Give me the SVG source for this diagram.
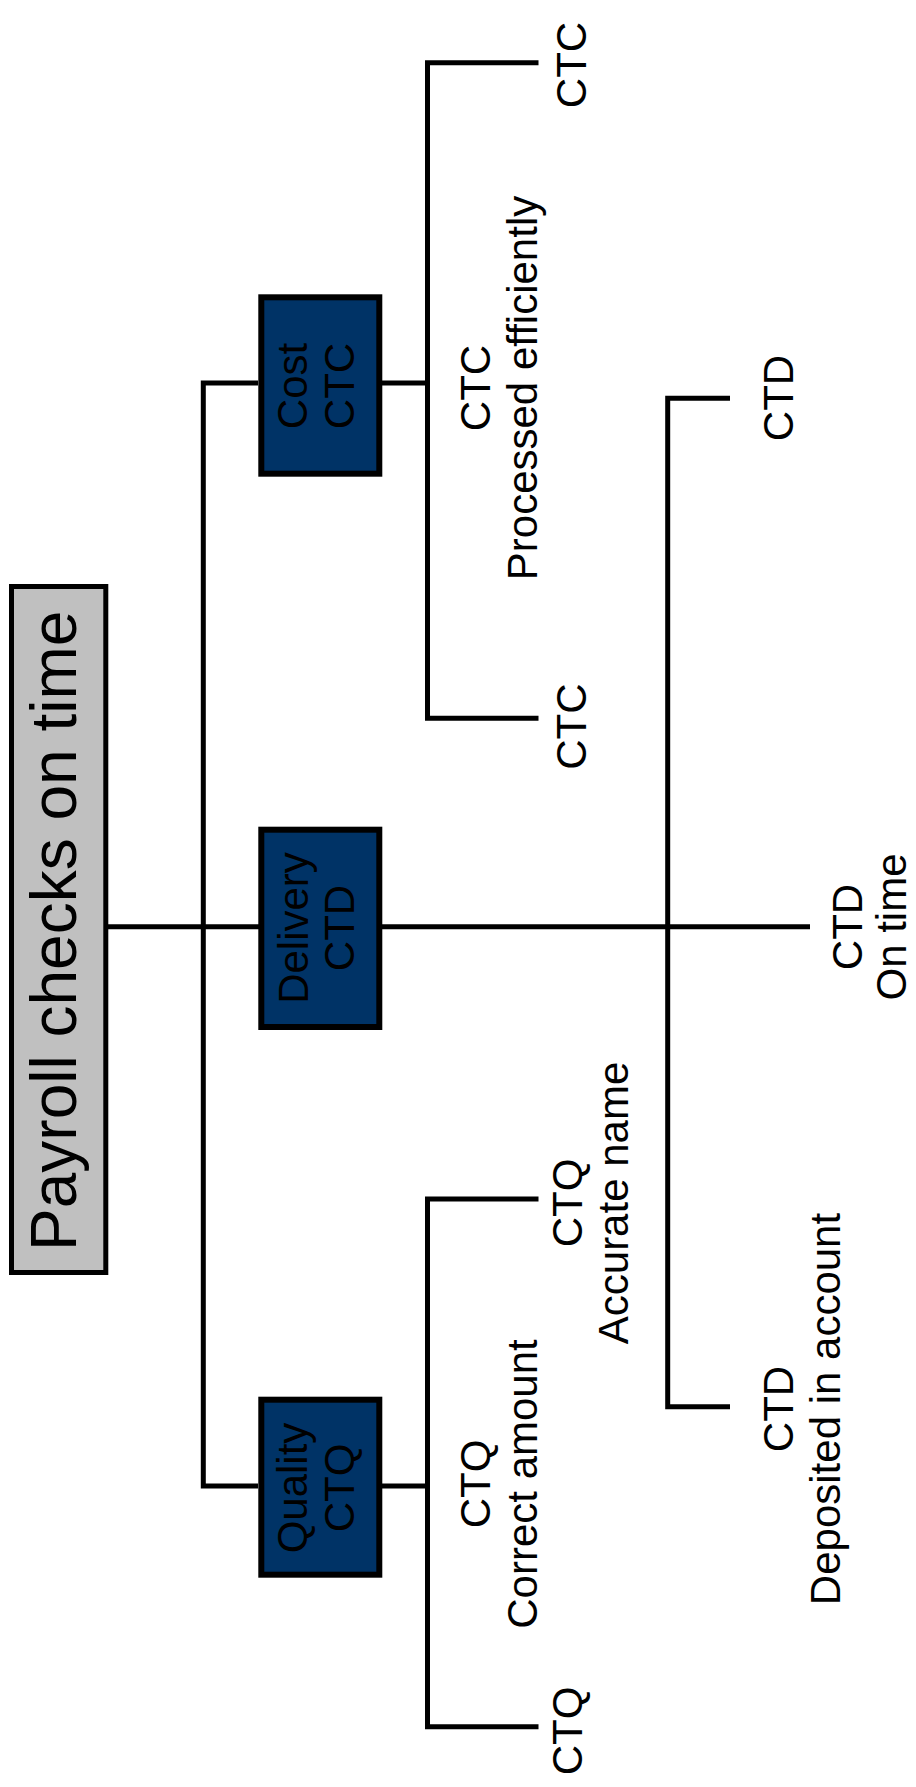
<svg xmlns="http://www.w3.org/2000/svg" width="916" height="1787" viewBox="0 0 916 1787">
  <style>
    .wire { fill: none; stroke: #000; stroke-width: 5; stroke-linejoin: miter; stroke-linecap: butt; }
    .box { fill: #003366; stroke: #000; stroke-width: 6; }
    .root { fill: #C0C0C0; stroke: #000; stroke-width: 5; }
    text { font-family: "Liberation Sans", Arial, sans-serif; fill: #000; text-anchor: middle; }
    .t42 { font-size: 42px; }
    .t64 { font-size: 64px; }
  </style>

  <!-- connectors: spine, branches and brackets -->
  <g id="connectors">
    <line class="wire" x1="108" y1="926.7" x2="810" y2="926.7"/>
    <polyline class="wire" points="258,383 203.3,383 203.3,1486 258,1486"/>
    <line class="wire" x1="382" y1="383" x2="427.5" y2="383"/>
    <line class="wire" x1="382" y1="1486" x2="427.5" y2="1486"/>
    <polyline class="wire" points="538.5,62.7 427.5,62.7 427.5,718.3 538.5,718.3"/>
    <polyline class="wire" points="538.5,1199 427.5,1199 427.5,1726.7 538.5,1726.7"/>
    <polyline class="wire" points="730,398.3 667.7,398.3 667.7,1406.7 730,1406.7"/>
  </g>

  <!-- root -->
  <g id="root">
    <rect class="root" x="11.5" y="586.5" width="94.3" height="686"/>
    <text class="t64" transform="translate(75.7,930.8) rotate(-90)">Payroll checks on time</text>
  </g>

  <!-- category boxes -->
  <g id="cost">
    <rect class="box" x="261.3" y="297.3" width="118" height="176.4"/>
    <text class="t42" transform="translate(306.7,386) rotate(-90)"><tspan x="0" y="0">Cost</tspan><tspan x="0" y="47">CTC</tspan></text>
  </g>
  <g id="delivery">
    <rect class="box" x="261.3" y="829.7" width="118" height="197.3"/>
    <text class="t42" transform="translate(308,928) rotate(-90)"><tspan x="0" y="0">Delivery</tspan><tspan x="0" y="45.5">CTD</tspan></text>
  </g>
  <g id="quality">
    <rect class="box" x="261.3" y="1399.7" width="118" height="175"/>
    <text class="t42" transform="translate(306.5,1488) rotate(-90)"><tspan x="0" y="0">Quality</tspan><tspan x="0" y="47">CTQ</tspan></text>
  </g>

  <!-- requirement labels -->
  <g id="ctc-top">
    <text class="t42" transform="translate(586,65) rotate(-90)">CTC</text>
  </g>
  <g id="ctc-processed">
    <text class="t42" transform="translate(490,388) rotate(-90)"><tspan x="0" y="0">CTC</tspan><tspan x="0" y="46.7">Processed efficiently</tspan></text>
  </g>
  <g id="ctc-bottom">
    <text class="t42" transform="translate(586,726.7) rotate(-90)">CTC</text>
  </g>
  <g id="ctd-top">
    <text class="t42" transform="translate(793,398) rotate(-90)">CTD</text>
  </g>
  <g id="ctd-ontime">
    <text class="t42" transform="translate(862,927) rotate(-90)"><tspan x="0" y="0">CTD</tspan><tspan x="0" y="44">On time</tspan></text>
  </g>
  <g id="ctd-deposited">
    <text class="t42" transform="translate(793,1409) rotate(-90)"><tspan x="0" y="0">CTD</tspan><tspan x="0" y="46.5">Deposited in account</tspan></text>
  </g>
  <g id="ctq-accurate">
    <text class="t42" transform="translate(581.5,1203) rotate(-90)"><tspan x="0" y="0">CTQ</tspan><tspan x="0" y="46.6">Accurate name</tspan></text>
  </g>
  <g id="ctq-correct">
    <text class="t42" transform="translate(490,1484) rotate(-90)"><tspan x="0" y="0">CTQ</tspan><tspan x="0" y="47">Correct amount</tspan></text>
  </g>
  <g id="ctq-bottom">
    <text class="t42" transform="translate(581.5,1731) rotate(-90)">CTQ</text>
  </g>
</svg>
